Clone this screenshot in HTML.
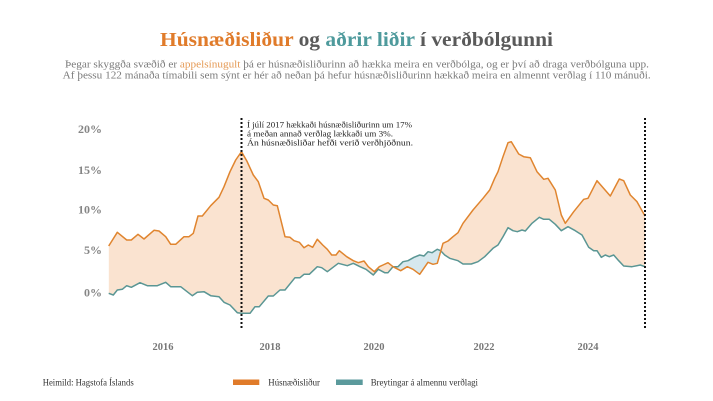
<!DOCTYPE html>
<html>
<head>
<meta charset="utf-8">
<style>
  html, body { margin: 0; padding: 0; background: #ffffff; }
  svg { display: block; }
  text { font-family: "Liberation Serif", "DejaVu Serif", serif; }
</style>
</head>
<body>
<svg width="713" height="401" viewBox="0 0 713 401" xmlns="http://www.w3.org/2000/svg">
  <rect x="0" y="0" width="713" height="401" fill="#ffffff"/>

  <!-- Title -->
  <text x="160" y="46" font-size="20" font-weight="bold" textLength="393" lengthAdjust="spacingAndGlyphs" fill="#5a5a5a"><tspan fill="#e07b2a">Húsnæðisliður</tspan> og <tspan fill="#4e9a9c">aðrir liðir</tspan> í verðbólgunni</text>

  <!-- Subtitle -->
  <text x="65" y="67.5" font-size="10.5" textLength="584" lengthAdjust="spacingAndGlyphs" fill="#7a7a7a">Þegar skyggða svæðið er <tspan fill="#e59a55">appelsínugult</tspan> þá er húsnæðisliðurinn að hækka meira en verðbólga, og er því að draga verðbólguna upp.</text>
  <text x="62.7" y="78.5" font-size="10.5" textLength="588" lengthAdjust="spacingAndGlyphs" fill="#7a7a7a">Af þessu 122 mánaða tímabili sem sýnt er hér að neðan þá hefur húsnæðisliðurinn hækkað meira en almennt verðlag í 110 mánuði.</text>

  <defs>
    <clipPath id="aboveTeal">
      <polygon points="108.7,0 108.7,293.3 113.3,295 117.3,290 122.3,289.3 126.7,285.7 131.3,287.3 140,282.7 147.3,285.7 157.3,285.7 165.7,282.3 170.7,286.7 180.7,286.7 192.3,295.7 197.3,292.3 204,291.7 210.7,295.7 219,296.7 224,302.3 230,305 237.3,312.7 241.5,313.3 250,313.3 255,306.7 259.3,306.7 268.3,296 273.3,296 280,290 285,290 295,277.7 300,277.7 304,274.3 309.3,274.3 317.3,266.7 321.7,267.7 327.3,271.7 338.3,263.3 347.3,265.7 353.3,263.3 360,266.7 366,269.3 373.3,275 378.3,269.3 384.7,272.7 388,272.7 393,266.7 398,266.7 403,261.7 408,260.7 414,257.3 419.7,255 424,256 428,251.7 432,252.7 437.3,249.3 440.7,250.7 444.7,255 449.7,258.3 458,260.7 463,264 471.3,264 478,261.7 484.7,256.7 493,248.3 498,245 503,236.7 508,227.7 513,230.7 517.3,231.7 522,230 525.3,231 532,223.3 539.3,217.3 543.7,219.3 549.3,219.3 555.3,224.3 561.3,230.7 568,226.7 575.3,230.7 582,235 588.7,247.3 593.7,250.7 597,250.7 601.3,257.3 605.3,255 609.3,256.7 613.7,255 618.7,260.7 623.7,266 632,266.7 640.3,265 645,266.7 645,0"/>
    </clipPath>
    <clipPath id="aboveOrange">
      <polygon points="108.7,0 108.7,246 117.3,232.3 126.7,240 131.3,240 138,234.3 144,239 154,230.3 159,231 165.7,236.7 170.7,244.3 175.7,244.3 184,236.7 189,236.7 193.3,233.3 198,216 202.3,216 210.7,205.7 219,197.3 224,186.7 230,171.7 235.7,160 241.5,151.7 246.7,160.7 253.3,175 258.3,181.7 264,198.3 268.3,200 273.3,205 277.3,205.7 285,236.7 290,237.3 294,240.7 299.3,242.3 304,247.7 308.3,245 312.7,247.3 317.3,239.3 322.7,245 327.3,249.3 331.7,255 336,255 339.3,250.7 346.7,256.7 353.3,260.7 358.3,262.7 364,261 368.3,266.7 374.3,271.7 379.3,266.7 383,265 388,262.7 393,266.7 400.7,270.7 407.3,266.7 413,269.3 419.7,274.3 428,262.3 433,264.3 437.3,263.3 443,243.3 448,241 453,236.7 458,232.7 463,223.3 473,210 483,198.3 489.7,190 494.7,178.3 498,171.7 503,156.7 508,142.7 511.3,141.7 518.7,154 523.7,156.7 530.3,157.7 537,171.7 543.7,179.3 548,178.3 555.3,190 561.3,215 565.3,223.3 573.7,211.7 583.7,199.3 588,198.3 597,180.7 610.3,196 619.3,179 623.7,180.7 630.3,195 637,201.7 645,216 645,0"/>
    </clipPath>
  </defs>

  <!-- Peach fill: orange above teal -->
  <polygon clip-path="url(#aboveTeal)" fill="#fae3d0" points="108.7,400 108.7,246 117.3,232.3 126.7,240 131.3,240 138,234.3 144,239 154,230.3 159,231 165.7,236.7 170.7,244.3 175.7,244.3 184,236.7 189,236.7 193.3,233.3 198,216 202.3,216 210.7,205.7 219,197.3 224,186.7 230,171.7 235.7,160 241.5,151.7 246.7,160.7 253.3,175 258.3,181.7 264,198.3 268.3,200 273.3,205 277.3,205.7 285,236.7 290,237.3 294,240.7 299.3,242.3 304,247.7 308.3,245 312.7,247.3 317.3,239.3 322.7,245 327.3,249.3 331.7,255 336,255 339.3,250.7 346.7,256.7 353.3,260.7 358.3,262.7 364,261 368.3,266.7 374.3,271.7 379.3,266.7 383,265 388,262.7 393,266.7 400.7,270.7 407.3,266.7 413,269.3 419.7,274.3 428,262.3 433,264.3 437.3,263.3 443,243.3 448,241 453,236.7 458,232.7 463,223.3 473,210 483,198.3 489.7,190 494.7,178.3 498,171.7 503,156.7 508,142.7 511.3,141.7 518.7,154 523.7,156.7 530.3,157.7 537,171.7 543.7,179.3 548,178.3 555.3,190 561.3,215 565.3,223.3 573.7,211.7 583.7,199.3 588,198.3 597,180.7 610.3,196 619.3,179 623.7,180.7 630.3,195 637,201.7 645,216 645,400"/>

  <!-- Blue fill: teal above orange -->
  <polygon clip-path="url(#aboveOrange)" fill="#d6e8ee" points="108.7,400 108.7,293.3 113.3,295 117.3,290 122.3,289.3 126.7,285.7 131.3,287.3 140,282.7 147.3,285.7 157.3,285.7 165.7,282.3 170.7,286.7 180.7,286.7 192.3,295.7 197.3,292.3 204,291.7 210.7,295.7 219,296.7 224,302.3 230,305 237.3,312.7 241.5,313.3 250,313.3 255,306.7 259.3,306.7 268.3,296 273.3,296 280,290 285,290 295,277.7 300,277.7 304,274.3 309.3,274.3 317.3,266.7 321.7,267.7 327.3,271.7 338.3,263.3 347.3,265.7 353.3,263.3 360,266.7 366,269.3 373.3,275 378.3,269.3 384.7,272.7 388,272.7 393,266.7 398,266.7 403,261.7 408,260.7 414,257.3 419.7,255 424,256 428,251.7 432,252.7 437.3,249.3 440.7,250.7 444.7,255 449.7,258.3 458,260.7 463,264 471.3,264 478,261.7 484.7,256.7 493,248.3 498,245 503,236.7 508,227.7 513,230.7 517.3,231.7 522,230 525.3,231 532,223.3 539.3,217.3 543.7,219.3 549.3,219.3 555.3,224.3 561.3,230.7 568,226.7 575.3,230.7 582,235 588.7,247.3 593.7,250.7 597,250.7 601.3,257.3 605.3,255 609.3,256.7 613.7,255 618.7,260.7 623.7,266 632,266.7 640.3,265 645,266.7 645,400"/>

  <!-- Teal line -->
  <polyline fill="none" stroke="#5a9694" stroke-width="1.5" stroke-linejoin="round" points="108.7,293.3 113.3,295 117.3,290 122.3,289.3 126.7,285.7 131.3,287.3 140,282.7 147.3,285.7 157.3,285.7 165.7,282.3 170.7,286.7 180.7,286.7 192.3,295.7 197.3,292.3 204,291.7 210.7,295.7 219,296.7 224,302.3 230,305 237.3,312.7 241.5,313.3 250,313.3 255,306.7 259.3,306.7 268.3,296 273.3,296 280,290 285,290 295,277.7 300,277.7 304,274.3 309.3,274.3 317.3,266.7 321.7,267.7 327.3,271.7 338.3,263.3 347.3,265.7 353.3,263.3 360,266.7 366,269.3 373.3,275 378.3,269.3 384.7,272.7 388,272.7 393,266.7 398,266.7 403,261.7 408,260.7 414,257.3 419.7,255 424,256 428,251.7 432,252.7 437.3,249.3 440.7,250.7 444.7,255 449.7,258.3 458,260.7 463,264 471.3,264 478,261.7 484.7,256.7 493,248.3 498,245 503,236.7 508,227.7 513,230.7 517.3,231.7 522,230 525.3,231 532,223.3 539.3,217.3 543.7,219.3 549.3,219.3 555.3,224.3 561.3,230.7 568,226.7 575.3,230.7 582,235 588.7,247.3 593.7,250.7 597,250.7 601.3,257.3 605.3,255 609.3,256.7 613.7,255 618.7,260.7 623.7,266 632,266.7 640.3,265 645,266.7"/>

  <!-- Orange line -->
  <polyline fill="none" stroke="#e0852f" stroke-width="1.5" stroke-linejoin="round" points="108.7,246 117.3,232.3 126.7,240 131.3,240 138,234.3 144,239 154,230.3 159,231 165.7,236.7 170.7,244.3 175.7,244.3 184,236.7 189,236.7 193.3,233.3 198,216 202.3,216 210.7,205.7 219,197.3 224,186.7 230,171.7 235.7,160 241.5,151.7 246.7,160.7 253.3,175 258.3,181.7 264,198.3 268.3,200 273.3,205 277.3,205.7 285,236.7 290,237.3 294,240.7 299.3,242.3 304,247.7 308.3,245 312.7,247.3 317.3,239.3 322.7,245 327.3,249.3 331.7,255 336,255 339.3,250.7 346.7,256.7 353.3,260.7 358.3,262.7 364,261 368.3,266.7 374.3,271.7 379.3,266.7 383,265 388,262.7 393,266.7 400.7,270.7 407.3,266.7 413,269.3 419.7,274.3 428,262.3 433,264.3 437.3,263.3 443,243.3 448,241 453,236.7 458,232.7 463,223.3 473,210 483,198.3 489.7,190 494.7,178.3 498,171.7 503,156.7 508,142.7 511.3,141.7 518.7,154 523.7,156.7 530.3,157.7 537,171.7 543.7,179.3 548,178.3 555.3,190 561.3,215 565.3,223.3 573.7,211.7 583.7,199.3 588,198.3 597,180.7 610.3,196 619.3,179 623.7,180.7 630.3,195 637,201.7 645,216"/>

  <!-- Dotted vertical lines -->
  <line x1="241.5" y1="118" x2="241.5" y2="330" stroke="#111" stroke-width="2" stroke-dasharray="2 2"/>
  <line x1="645" y1="118" x2="645" y2="330" stroke="#111" stroke-width="2" stroke-dasharray="2 2"/>

  <!-- Annotation -->
  <text x="247" y="127.5" font-size="8.5" fill="#222" textLength="165" lengthAdjust="spacingAndGlyphs">Í júlí 2017 hækkaði húsnæðisliðurinn um 17%</text>
  <text x="247" y="136.5" font-size="8.5" fill="#222" textLength="146" lengthAdjust="spacingAndGlyphs">á meðan annað verðlag lækkaði um 3%.</text>
  <text x="247" y="145.5" font-size="8.5" fill="#222" textLength="166" lengthAdjust="spacingAndGlyphs">Án húsnæðisliðar hefði verið verðhjöðnun.</text>

  <!-- Y axis labels -->
  <g font-size="12" font-weight="bold" fill="#858585" text-anchor="end">
    <text x="102" y="133">20%</text>
    <text x="102" y="174">15%</text>
    <text x="102" y="213.5">10%</text>
    <text x="102" y="254">5%</text>
    <text x="102" y="296.5">0%</text>
  </g>

  <!-- X axis labels -->
  <g font-size="10.5" font-weight="bold" fill="#777" text-anchor="middle">
    <text x="163" y="350">2016</text>
    <text x="270" y="350">2018</text>
    <text x="374" y="350">2020</text>
    <text x="484" y="350">2022</text>
    <text x="588" y="350">2024</text>
  </g>

  <!-- Footer / legend -->
  <text x="42.7" y="385.5" font-size="9.5" fill="#333" textLength="91" lengthAdjust="spacingAndGlyphs">Heimild: Hagstofa Íslands</text>
  <rect x="233" y="379.5" width="26.3" height="5.5" fill="#e07b2a"/>
  <text x="268.3" y="385.5" font-size="9.5" fill="#333" textLength="51.7" lengthAdjust="spacingAndGlyphs">Húsnæðisliður</text>
  <rect x="336" y="379.5" width="26.7" height="5.5" fill="#5b9a9c"/>
  <text x="370.7" y="385.5" font-size="9.5" fill="#333" textLength="107.3" lengthAdjust="spacingAndGlyphs">Breytingar á almennu verðlagi</text>
</svg>
</body>
</html>
